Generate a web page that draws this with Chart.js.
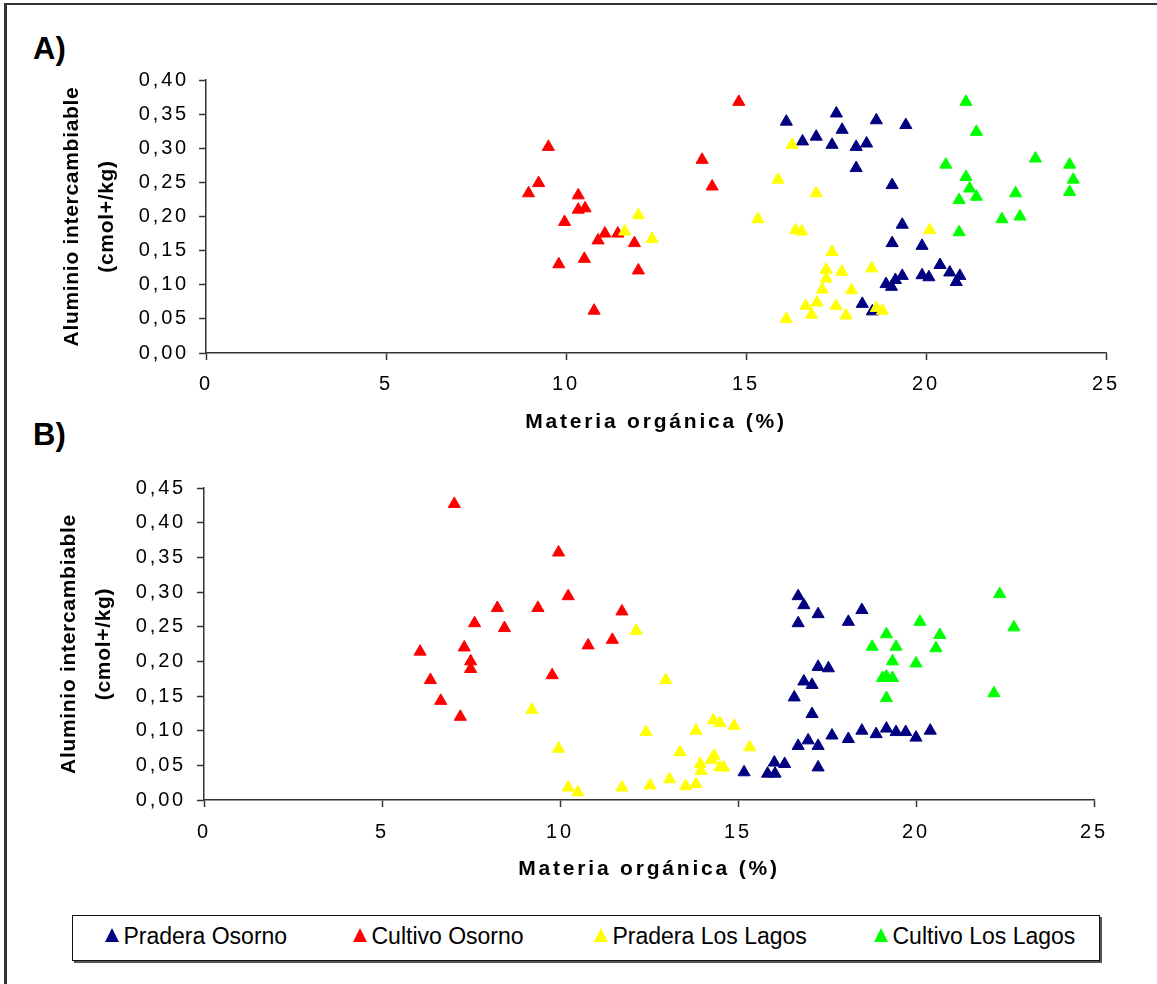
<!DOCTYPE html>
<html>
<head>
<meta charset="utf-8">
<script src="https://cdn.jsdelivr.net/npm/chart.js@4.4.0/dist/chart.umd.min.js"></script>
<style>
  html, body { margin: 0; padding: 0; background: #fff; }
  body { width: 1157px; height: 984px; position: relative; overflow: hidden;
         font-family: 'Liberation Sans', Arial, sans-serif; color: #000; }
  #frame { position: absolute; left: 4px; top: 3px; width: 1200px; height: 1100px;
           border-left: 3px solid #333; border-top: 2px solid #333; }
  canvas { position: absolute; left: 0; }
  #cA { top: 0; }
  #cB { top: 440px; }
  .panel { position: absolute; font-weight: bold; font-size: 31px; line-height: 31px; }
  #legend { position: absolute; left: 72px; top: 915px; width: 1026px; height: 44px;
            border: 1.5px solid #111; box-shadow: 2px 2px 0 #555; background: #fff; }
  .mark { position: absolute; top: 12px; width: 0; height: 0;
          border-left: 7px solid transparent; border-right: 7px solid transparent;
          border-bottom: 14px solid #000; }
  .name { position: absolute; top: 9px; font-size: 23px; line-height: 23px; white-space: nowrap; }
</style>
</head>
<body>
<div id="frame"></div>
<div class="panel" style="left:33px;top:33px;">A)</div>
<div class="panel" style="left:33px;top:419px;">B)</div>
<canvas id="cA" width="1157" height="440"></canvas>
<canvas id="cB" width="1157" height="460"></canvas>
<div id="legend"></div>

<script>
// Series names and colours
const seriesNames  = ['Pradera Osorno', 'Cultivo Osorno', 'Pradera Los Lagos', 'Cultivo Los Lagos'];
const seriesColors = ['#000080', '#FF0000', '#FFFF00', '#00FF00'];

// Axis ticks
const xTicks  = [0, 5, 10, 15, 20, 25];
const yTicksA = [0, 0.05, 0.10, 0.15, 0.20, 0.25, 0.30, 0.35, 0.40];
const yTicksB = [0, 0.05, 0.10, 0.15, 0.20, 0.25, 0.30, 0.35, 0.40, 0.45];

// Panel A: [materia orgánica %, aluminio intercambiable]
const praderaOsornoA = [
  [16.12,0.339],[17.51,0.351],[18.62,0.341],[19.44,0.334],[17.67,0.327],[16.95,0.317],
  [16.57,0.310],[17.39,0.305],[18.06,0.302],[18.35,0.307],[18.06,0.271],[19.06,0.246],
  [19.34,0.188],[19.06,0.161],[19.89,0.157],[20.39,0.129],[20.66,0.118],[20.94,0.113],
  [20.84,0.104],[19.89,0.114],[20.08,0.111],[19.34,0.113],[19.15,0.107],[18.89,0.101],
  [19.04,0.097],[18.23,0.072],[18.51,0.061]
];
const cultivoOsornoA = [
  [8.96,0.234],[9.24,0.249],[9.51,0.302],[9.80,0.130],[9.96,0.192],[10.34,0.231],
  [10.34,0.210],[10.53,0.212],[10.51,0.138],[10.78,0.062],[10.89,0.165],[11.08,0.175],
  [11.44,0.175],[11.90,0.161],[12.01,0.121],[13.78,0.283],[14.06,0.244],[14.80,0.368]
];
const praderaLosLagosA = [
  [16.28,0.305],[15.89,0.254],[16.95,0.234],[15.33,0.196],[12.01,0.202],[11.63,0.178],
  [12.39,0.167],[16.38,0.180],[16.55,0.178],[20.10,0.180],[17.39,0.148],[17.23,0.122],
  [17.23,0.109],[17.66,0.119],[18.49,0.124],[17.12,0.093],[17.93,0.092],[16.97,0.074],
  [16.66,0.069],[17.50,0.069],[16.82,0.056],[17.78,0.055],[16.12,0.050],[18.62,0.066],
  [18.79,0.062]
];
const cultivoLosLagosA = [
  [21.11,0.368],[21.40,0.324],[23.04,0.285],[20.55,0.276],[23.99,0.276],[21.11,0.258],
  [24.09,0.254],[21.21,0.241],[21.40,0.229],[20.92,0.224],[22.49,0.234],[23.99,0.236],
  [22.11,0.196],[22.61,0.200],[20.92,0.177]
];

// Panel B
const praderaOsornoB = [
  [16.69,0.294],[16.85,0.281],[17.25,0.268],[18.48,0.274],[18.10,0.257],[16.69,0.255],
  [17.25,0.192],[17.54,0.190],[16.85,0.171],[17.08,0.166],[16.58,0.148],[17.08,0.124],
  [18.48,0.100],[19.17,0.103],[19.44,0.098],[19.71,0.098],[20.40,0.100],[20.00,0.090],
  [18.88,0.095],[18.10,0.088],[17.64,0.093],[16.97,0.086],[16.69,0.078],[17.25,0.078],
  [17.25,0.047],[15.17,0.040],[16.02,0.054],[16.31,0.052],[15.83,0.038],[16.04,0.038]
];
const cultivoOsornoB = [
  [7.03,0.427],[9.96,0.357],[10.23,0.294],[8.24,0.277],[9.38,0.277],[7.60,0.255],
  [8.44,0.248],[10.79,0.223],[6.07,0.214],[7.31,0.220],[7.49,0.200],[7.49,0.189],
  [9.78,0.180],[6.36,0.173],[6.65,0.143],[7.20,0.120],[11.74,0.272],[11.47,0.231]
];
const praderaLosLagosB = [
  [9.21,0.130],[9.96,0.074],[10.23,0.018],[10.50,0.011],[12.14,0.244],[12.97,0.173],
  [12.42,0.098],[13.82,0.100],[14.31,0.115],[14.49,0.111],[14.89,0.107],[15.33,0.076],
  [13.37,0.069],[13.94,0.052],[13.96,0.042],[14.25,0.058],[14.33,0.064],[14.49,0.047],
  [14.60,0.047],[13.08,0.030],[13.53,0.020],[13.82,0.023],[12.53,0.021],[11.74,0.018]
];
const cultivoLosLagosB = [
  [22.35,0.297],[22.75,0.249],[20.11,0.257],[20.67,0.238],[20.56,0.219],[19.17,0.239],
  [18.77,0.221],[19.44,0.221],[19.34,0.200],[20.00,0.197],[19.06,0.176],[19.17,0.178],
  [19.34,0.176],[19.17,0.147],[22.19,0.154]
];

const FONT = "'Liberation Sans', Arial, sans-serif";
const AXIS = '#333';

// Wide letter spacing for tick labels and the x title, tighter for the rotated y title
const textSpacing = {
  id: 'textSpacing',
  beforeUpdate(chart) { chart.ctx.letterSpacing = '2.8px'; },
  beforeDraw(chart) {
    chart.ctx.letterSpacing = '2.8px';
    const y = chart.scales.y;
    if (y && !y._spacedTitle) {
      const base = Object.getPrototypeOf(y).drawTitle;
      y.drawTitle = function () {
        const c = this.ctx, prev = c.letterSpacing;
        c.letterSpacing = '0.7px';
        base.call(this);
        c.letterSpacing = prev;
      };
      y._spacedTitle = true;
    }
  }
};

function datasets(groups) {
  return groups.map((pts, i) => ({
    label: seriesNames[i],
    data: pts.map(p => ({ x: p[0], y: p[1] })),
    pointStyle: 'triangle',
    pointRadius: 7,
    pointHoverRadius: 7,
    pointBorderWidth: 1,
    backgroundColor: seriesColors[i],
    borderColor: seriesColors[i],
    showLine: false,
    order: groups.length - i
  }));
}

function makeChart(id, groups, yTicks, yMax, o) {
  return new Chart(document.getElementById(id), {
    type: 'scatter',
    data: { datasets: datasets(groups) },
    plugins: [textSpacing],
    options: {
      responsive: false,
      animation: false,
      events: [],
      devicePixelRatio: 1,
      layout: { padding: o.padding },
      plugins: { legend: { display: false }, tooltip: { enabled: false } },
      scales: {
        x: {
          type: 'linear', min: 0, max: 25,
          afterBuildTicks: s => { s.ticks = xTicks.map(value => ({ value })); },
          afterFit: s => { s.height = 85; },
          grid: { display: true, drawOnChartArea: false, drawTicks: true, tickLength: 7,
                  tickColor: AXIS, tickWidth: 1.5 },
          border: { display: true, color: AXIS, width: 1.5 },
          ticks: { color: '#000', padding: o.xPad, maxRotation: 0,
                   font: { family: FONT, size: 20 } },
          title: { display: true, text: 'Materia orgánica (%)', color: '#000',
                   padding: { top: 0, bottom: 3.4 },
                   font: { family: FONT, size: 21, weight: 'bold' } }
        },
        y: {
          type: 'linear', min: 0, max: yMax,
          afterBuildTicks: s => { s.ticks = yTicks.map(value => ({ value })); },
          afterFit: s => { s.width = o.yWidth; },
          grid: { display: true, drawOnChartArea: false, drawTicks: true, tickLength: 7,
                  tickColor: AXIS, tickWidth: 1.5 },
          border: { display: true, color: AXIS, width: 1.5 },
          ticks: { color: '#000', padding: o.yPad,
                   font: { family: FONT, size: 20 },
                   callback: v => v.toFixed(2).replace('.', ',') },
          title: { display: true, text: ['Aluminio intercambiable', '(cmol+/kg)'], color: '#000',
                   padding: { top: o.titlePad, bottom: 0 },
                   font: { family: FONT, size: 21, weight: 'bold', lineHeight: '35px' } }
        }
      }
    }
  });
}

makeChart('cA', [praderaOsornoA, cultivoOsornoA, praderaLosLagosA, cultivoLosLagosA], yTicksA, 0.40,
  { padding: { top: 80, left: 0, right: 51, bottom: 2 }, yWidth: 206, yPad: 10, xPad: 12, titlePad: 54.5 });

makeChart('cB', [praderaOsornoB, cultivoOsornoB, praderaLosLagosB, cultivoLosLagosB], yTicksB, 0.45,
  { padding: { top: 48, left: 0, right: 63, bottom: 15 }, yWidth: 204, yPad: 11, xPad: 13, titlePad: 52 });

// Shared legend under both panels
const legendTextLeft = [124, 372, 613, 893];
const legend = document.getElementById('legend');
seriesNames.forEach((name, i) => {
  const left = legendTextLeft[i] - 73.5;
  const m = document.createElement('div');
  m.className = 'mark';
  m.style.left = (left - 19) + 'px';
  m.style.borderBottomColor = seriesColors[i];
  legend.appendChild(m);
  const t = document.createElement('div');
  t.className = 'name';
  t.style.left = left + 'px';
  t.textContent = name;
  legend.appendChild(t);
});
</script>
</body>
</html>
